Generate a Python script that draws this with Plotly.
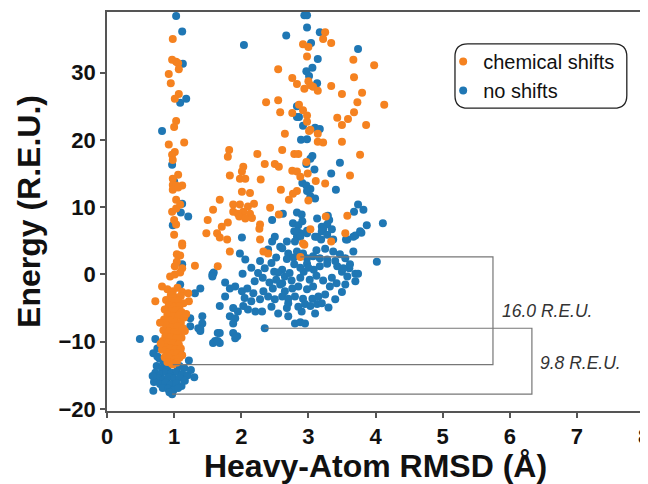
import plotly.graph_objects as go

# RMSD (Angstrom) and energy (R.E.U.) for the "chemical shifts" runs
cs_rmsd = [
    0.98, 0.97, 1.03, 1.06, 1.07, 0.92, 0.95, 1.07, 1.01, 1.03, 1.00, 0.92, 1.15, 1.01, 0.97, 0.98,
    1.06, 0.98, 0.98, 1.03, 1.12, 0.98, 1.06, 1.03, 0.97, 1.03, 1.09, 1.00, 1.03, 1.00, 1.12, 1.48,
    1.50, 1.12, 1.04, 1.09, 1.04, 1.01, 1.12, 0.94, 1.01, 1.09, 1.31, 1.65, 0.82, 0.72, 1.22, 1.21,
    0.90, 0.98, 1.05, 1.12, 0.95, 1.02, 1.10, 0.88, 0.97, 1.06, 1.14, 0.92, 1.00, 1.08, 0.86, 0.95,
    1.03, 1.11, 0.90, 0.99, 1.07, 1.15, 0.85, 0.94, 1.02, 1.10, 0.88, 0.97, 1.05, 1.13, 0.84, 0.92,
    1.00, 1.08, 0.87, 0.95, 1.03, 1.11, 0.83, 0.91, 0.99, 1.07, 0.86, 0.94, 1.02, 1.10, 0.89, 0.97,
    1.05, 0.86, 0.93, 1.01, 1.08, 0.90, 0.96, 0.98, 1.04, 1.12, 0.82, 0.80, 1.16, 1.18, 0.79,
    3.25, 3.22, 3.34, 2.92, 3.00, 2.98, 3.67, 3.98, 2.55, 2.76, 2.83, 3.00, 3.03, 3.07, 2.94, 3.14,
    3.34, 3.68, 3.50, 3.80, 2.37, 2.55, 2.58, 2.76, 2.86, 2.92, 2.98, 2.98, 3.73, 3.68, 4.13, 3.43,
    3.59, 3.50, 3.86, 3.03, 2.65, 3.01, 3.14, 3.14, 3.22, 3.50, 1.82, 1.80, 2.24, 2.61, 2.79, 2.85,
    2.97, 3.77, 2.35, 2.50, 2.56, 2.03, 2.01, 1.98, 2.06, 1.83, 2.29, 2.76, 2.83, 2.88, 2.99, 3.11,
    3.25, 3.62, 2.59, 2.83, 2.77, 2.01, 2.13, 2.71, 3.00, 1.68, 1.88, 1.98, 2.10, 2.19, 1.58, 1.88,
    1.95, 2.03, 2.13, 2.43, 1.97, 2.06, 2.16, 2.56, 3.26, 3.58, 1.71, 1.80, 2.28, 2.27, 1.64, 1.68,
    3.03, 3.55, 1.79, 2.28, 2.92, 2.94, 3.34, 1.83, 2.33, 2.40, 2.88,
]
cs_energy = [
    35.0, 31.9, 31.6, 31.4, 30.5, 29.8, 28.4, 26.8, 26.1, 22.8, 21.9, 19.3, 19.6, 18.2, 17.8, 17.0,
    14.8, 14.2, 13.3, 13.2, 13.2, 12.6, 12.9, 11.1, 9.3, 9.8, 10.4, 8.1, 7.4, 5.9, 4.6, 6.1,
    8.1, 4.3, 3.0, 2.8, 1.9, 1.2, 0.9, -0.3, 0.0, 0.3, 1.3, 1.2, -1.8, -4.0, -4.0, -2.8,
    -2.2, -2.5, -2.0, -2.6, -3.1, -3.4, -3.2, -3.8, -4.0, -3.9, -4.3, -4.6, -4.8, -4.7, -5.2, -5.5,
    -5.3, -5.6, -6.0, -6.2, -6.1, -6.4, -6.7, -6.9, -7.0, -7.2, -7.6, -7.8, -7.7, -8.0, -8.3, -8.5,
    -8.6, -8.8, -9.2, -9.3, -9.5, -9.4, -9.9, -10.1, -10.2, -10.4, -10.8, -11.0, -11.1, -11.0, -11.6, -11.8,
    -11.7, -12.3, -12.5, -12.6, -12.4, -13.0, -13.2, -13.4, -13.1, -12.0, -11.2, -10.3, -8.4, -5.9, -7.2,
    36.0, 35.0, 34.4, 34.2, 33.8, 32.4, 31.9, 31.1, 30.5, 29.2, 28.3, 28.7, 28.1, 27.9, 27.6, 27.3,
    28.0, 29.3, 26.8, 27.0, 25.6, 25.9, 24.1, 24.0, 25.2, 24.4, 23.6, 22.7, 25.6, 24.1, 25.2, 23.3,
    23.1, 22.2, 22.2, 21.5, 20.9, 21.3, 20.9, 19.7, 19.6, 19.7, 18.5, 17.5, 17.9, 18.5, 17.9, 17.9,
    16.7, 17.8, 16.4, 16.4, 16.0, 16.0, 15.3, 14.2, 14.2, 14.7, 14.1, 15.4, 15.3, 14.5, 15.0, 13.9,
    13.5, 14.7, 12.6, 12.4, 12.0, 12.3, 12.1, 11.1, 11.0, 11.1, 10.4, 10.4, 10.1, 10.5, 9.6, 9.3,
    9.0, 9.3, 9.0, 9.9, 8.6, 8.3, 8.4, 8.9, 8.6, 8.7, 7.1, 7.7, 7.4, 6.8, 6.1, 5.5,
    6.7, 6.1, 5.2, 5.2, 4.6, 4.4, 4.9, 3.4, 3.4, 3.1, 2.6,
]

# RMSD (Angstrom) and energy (R.E.U.) for the "no shifts" runs
ns_rmsd = [
    1.03, 1.12, 1.13, 1.09, 1.18, 0.82, 0.97, 1.00, 1.12, 1.10, 1.21, 0.98, 1.12, 1.57, 1.59, 1.09,
    1.39, 1.31, 1.24, 1.24, 1.36, 1.39, 0.49, 0.72, 0.75, 0.69, 1.65, 1.61, 1.68, 1.09, 1.06, 0.69,
    0.78, 0.84, 0.74, 0.82, 0.90, 1.08, 1.15, 0.72, 0.80, 0.88, 0.96, 1.04, 1.12, 1.20, 0.76, 0.84,
    0.92, 1.00, 1.08, 1.16, 0.70, 0.79, 0.87, 0.95, 1.03, 1.11, 0.83, 0.91, 0.99, 1.06, 0.93, 0.97,
    1.25, 1.22, 0.68, 0.75, 1.30,
    2.94, 2.98, 2.98, 3.17, 2.67, 2.04, 3.04, 3.74, 3.14, 3.06, 2.97, 3.01, 3.13, 2.83, 2.83, 2.86,
    2.92, 3.10, 3.17, 2.89, 2.98, 3.06, 3.03, 2.97, 3.09, 3.34, 3.47, 2.91, 2.97, 3.03, 2.98, 3.41,
    3.03, 3.10, 3.74, 3.82, 3.68, 2.83, 2.90, 2.46, 2.62, 3.13, 3.29, 3.31, 3.20, 3.28, 3.22, 2.77,
    2.85, 2.91, 2.79, 2.88, 2.83, 2.98, 3.87, 4.11, 3.70, 3.79, 2.01, 3.13, 3.19, 3.37, 3.56,
    2.46, 2.58, 2.68, 2.50, 2.83, 2.88, 2.80, 2.98, 3.10, 3.20, 3.28, 3.35, 3.58, 3.67, 3.77, 3.67,
    3.47, 3.37, 4.02, 1.98, 2.06, 2.40, 2.61, 2.70, 2.83, 2.92, 2.98, 3.07, 3.17, 3.28, 2.35, 2.49,
    2.61, 2.65, 2.61, 2.79, 2.98, 3.08, 3.17, 3.28, 3.43, 3.50, 3.61, 3.70, 3.52, 3.74, 3.58, 3.70,
    1.58, 1.57, 1.83, 1.91, 2.01, 2.09, 2.18, 2.33, 2.40, 2.28, 2.47, 2.58, 2.65, 2.76, 2.85, 2.98,
    3.07, 2.50, 2.61, 2.70, 2.80, 2.92, 3.06, 3.15, 3.25, 3.32, 2.95, 3.03, 3.13, 3.20, 1.76, 1.68,
    1.88, 1.95, 2.03, 2.10, 2.21, 2.31, 1.83, 1.91, 1.88, 2.68, 2.70, 2.80, 2.88, 2.95, 2.35, 1.88,
    1.94, 1.91, 1.58, 1.65, 1.68, 1.42, 1.42, 1.39,
    2.20, 2.25, 2.32, 2.42, 2.52, 2.55, 2.72, 2.75, 2.88, 2.93, 3.02, 3.12, 3.22, 3.35, 3.42, 2.68,
    2.78, 2.88, 3.00, 3.12, 3.25, 3.40, 3.55, 3.62, 2.52, 2.45, 2.15, 2.28, 2.05, 2.15, 2.45, 2.55,
    2.90, 3.10, 3.30, 3.40, 3.50, 3.55, 2.70, 2.85, 1.76, 2.02,
]
ns_energy = [
    38.4, 36.1, 31.3, 25.5, 26.1, 21.3, 16.3, 13.8, 10.5, 9.2, 8.6, 7.3, 1.5, 0.0, 0.3, -1.5,
    -2.1, -2.8, -6.5, -7.7, -8.0, -8.4, -9.6, -9.6, -11.0, -11.7, -8.7, -9.9, -10.2, -11.4, -12.1, -17.3,
    -12.5, -13.0, -13.6, -14.0, -13.8, -13.6, -13.9, -14.6, -14.8, -14.5, -14.6, -14.4, -14.8, -15.0, -15.4, -15.6,
    -15.3, -15.5, -15.4, -15.8, -16.0, -16.3, -16.1, -16.4, -16.2, -16.6, -16.9, -17.0, -17.2, -16.9, -17.5, -17.8,
    -14.2, -12.8, -15.1, -12.2, -15.3,
    38.5, 38.5, 36.7, 36.0, 35.5, 34.1, 34.4, 33.5, 32.0, 30.7, 30.2, 29.5, 28.4, 25.0, 23.4, 23.4,
    22.1, 21.8, 21.6, 20.0, 20.1, 17.6, 17.2, 16.4, 15.6, 15.0, 16.6, 13.6, 13.2, 12.7, 12.4, 12.6,
    11.6, 11.3, 10.4, 9.6, 9.3, 9.2, 8.9, 8.1, 9.0, 8.3, 8.7, 8.1, 7.1, 7.4, 6.7, 7.6,
    7.3, 7.9, 6.4, 6.1, 5.6, 6.5, 7.3, 7.6, 5.8, 6.2, 5.5, 5.6, 5.2, 5.2, 5.2,
    4.9, 4.1, 4.9, 5.6, 6.4, 5.6, 4.9, 6.1, 5.6, 6.4, 5.9, 6.7, 5.2, 5.6, 6.4, 3.4,
    3.0, 3.4, 1.9, 3.1, 2.2, 3.7, 3.9, 3.1, 3.4, 3.1, 2.4, 2.7, 2.4, 2.2, 0.9, 0.4,
    0.7, -0.3, -1.3, 1.5, 1.6, 0.7, 1.2, 1.6, 1.2, 0.4, 0.9, 0.1, 0.9, 0.1, -0.3, -1.0,
    0.1, -0.3, -2.1, -1.8, -2.5, -2.1, -2.8, -2.5, -3.3, -3.7, -2.1, -1.5, -2.5, -2.1, -1.8, -2.2,
    -1.8, -3.7, -3.3, -3.6, -3.3, -3.6, -3.6, -3.3, -3.0, -1.8, -4.4, -4.7, -4.4, -4.3, -3.3, -4.7,
    -5.0, -5.5, -4.7, -5.2, -5.5, -5.5, -6.2, -6.5, -7.3, -5.0, -6.2, -7.3, -7.1, -7.3, -8.0, -8.7,
    -9.2, -9.5, -10.2, -9.9, -8.7, -6.2, -7.3, -8.1,
    -1.0, 0.2, -0.5, -1.2, -0.8, 0.3, 0.2, -0.9, -0.5, 0.4, -0.8, -0.2, -0.9, -0.5, -1.3, 2.3,
    2.5, 1.0, 1.0, 3.6, 3.8, 2.0, 2.4, 1.5, 2.5, 1.7, 1.0, 2.0, -3.5, -4.0, -4.8, -5.8,
    -5.5, -5.8, -4.9, -3.7, -2.6, -1.5, -4.3, -4.8, -1.2, 0.1,
]

FONT = "Liberation Sans, Arial, sans-serif"
ORANGE = "#f58220"
BLUE = "#1f77b4"


def best(rmsd, energy, near):
    # lowest-energy model either near the native (<2 A) or far from it
    pts = [(e, r) for r, e in zip(rmsd, energy) if (r < 2.0) == near]
    e, r = min(pts)
    return r, e


cs_near, cs_far = best(cs_rmsd, cs_energy, True), best(cs_rmsd, cs_energy, False)
ns_near, ns_far = best(ns_rmsd, ns_energy, True), best(ns_rmsd, ns_energy, False)

fig = go.Figure()
fig.add_trace(go.Scatter(x=ns_rmsd, y=ns_energy, mode="markers", name="no shifts",
                         marker=dict(color=BLUE, size=8), legendrank=2))
fig.add_trace(go.Scatter(x=cs_rmsd, y=cs_energy, mode="markers", name="chemical shifts",
                         marker=dict(color=ORANGE, size=8), legendrank=1))

# energy-gap brackets
for near, far, xr, lx, label_y in [(cs_near, cs_far, 5.75, 6.55, -5.5),
                                   (ns_near, ns_far, 6.33, 7.05, -13.2)]:
    path = "M {},{} L {},{} L {},{} L {},{}".format(far[0], far[1], xr, far[1], xr, near[1], near[0], near[1])
    fig.add_shape(type="path", path=path, xref="x", yref="y",
                  line=dict(color="#777777", width=1.2))
    fig.add_annotation(x=lx, y=label_y, xref="x", yref="y", showarrow=False,
                       text="<i>{:.1f} R.E.U.</i>".format(far[1] - near[1]),
                       font=dict(family=FONT, size=17.5, color="#333333"))

# rounded legend frame
x0, x1, y0, y1 = 0.648, 0.968, 0.759, 0.920
rx, ry = 0.024, 0.032
frame = ("M {a},{y1} L {b},{y1} Q {x1},{y1} {x1},{c} L {x1},{d} Q {x1},{y0} {b},{y0} "
         "L {a},{y0} Q {x0},{y0} {x0},{d} L {x0},{c} Q {x0},{y1} {a},{y1} Z").format(
    a=x0 + rx, b=x1 - rx, c=y1 - ry, d=y0 + ry, x0=x0, x1=x1, y0=y0, y1=y1)
fig.add_shape(type="path", path=frame, xref="paper", yref="paper",
              line=dict(color="#222222", width=1.3), fillcolor="white", layer="below")

axis_common = dict(showgrid=False, zeroline=False, showline=True, mirror=True,
                   linecolor="#555555", linewidth=1.5, ticks="outside", ticklen=5,
                   tickcolor="#555555", tickwidth=1.5, automargin=False,
                   ticklabeloverflow="allow",
                   tickfont=dict(family=FONT, size=22, color="#111111", weight="bold"))

# the page body adds an 8px offset, so the figure is sized to the visible area
fig.update_layout(
    width=640, height=476,
    margin=dict(l=99, r=4, t=4, b=73),
    paper_bgcolor="white", plot_bgcolor="white",
    showlegend=True,
    legend=dict(x=0.626, y=0.925, xanchor="left", yanchor="top",
                bgcolor="rgba(0,0,0,0)", borderwidth=0,
                font=dict(family=FONT, size=20, color="#111111"),
                tracegroupgap=0),
    xaxis=dict(range=[0, 8], dtick=1, **axis_common,
               title=dict(text="Heavy-Atom RMSD (Å)", standoff=8,
                          font=dict(family=FONT, size=32, color="#111111", weight="bold"))),
    yaxis=dict(range=[-20.3, 39], tickvals=[-20, -10, 0, 10, 20, 30], **axis_common,
               title=dict(text="Energy (R.E.U.)", standoff=8,
                          font=dict(family=FONT, size=32, color="#111111", weight="bold"))),
)

fig.write_html("out.html")
